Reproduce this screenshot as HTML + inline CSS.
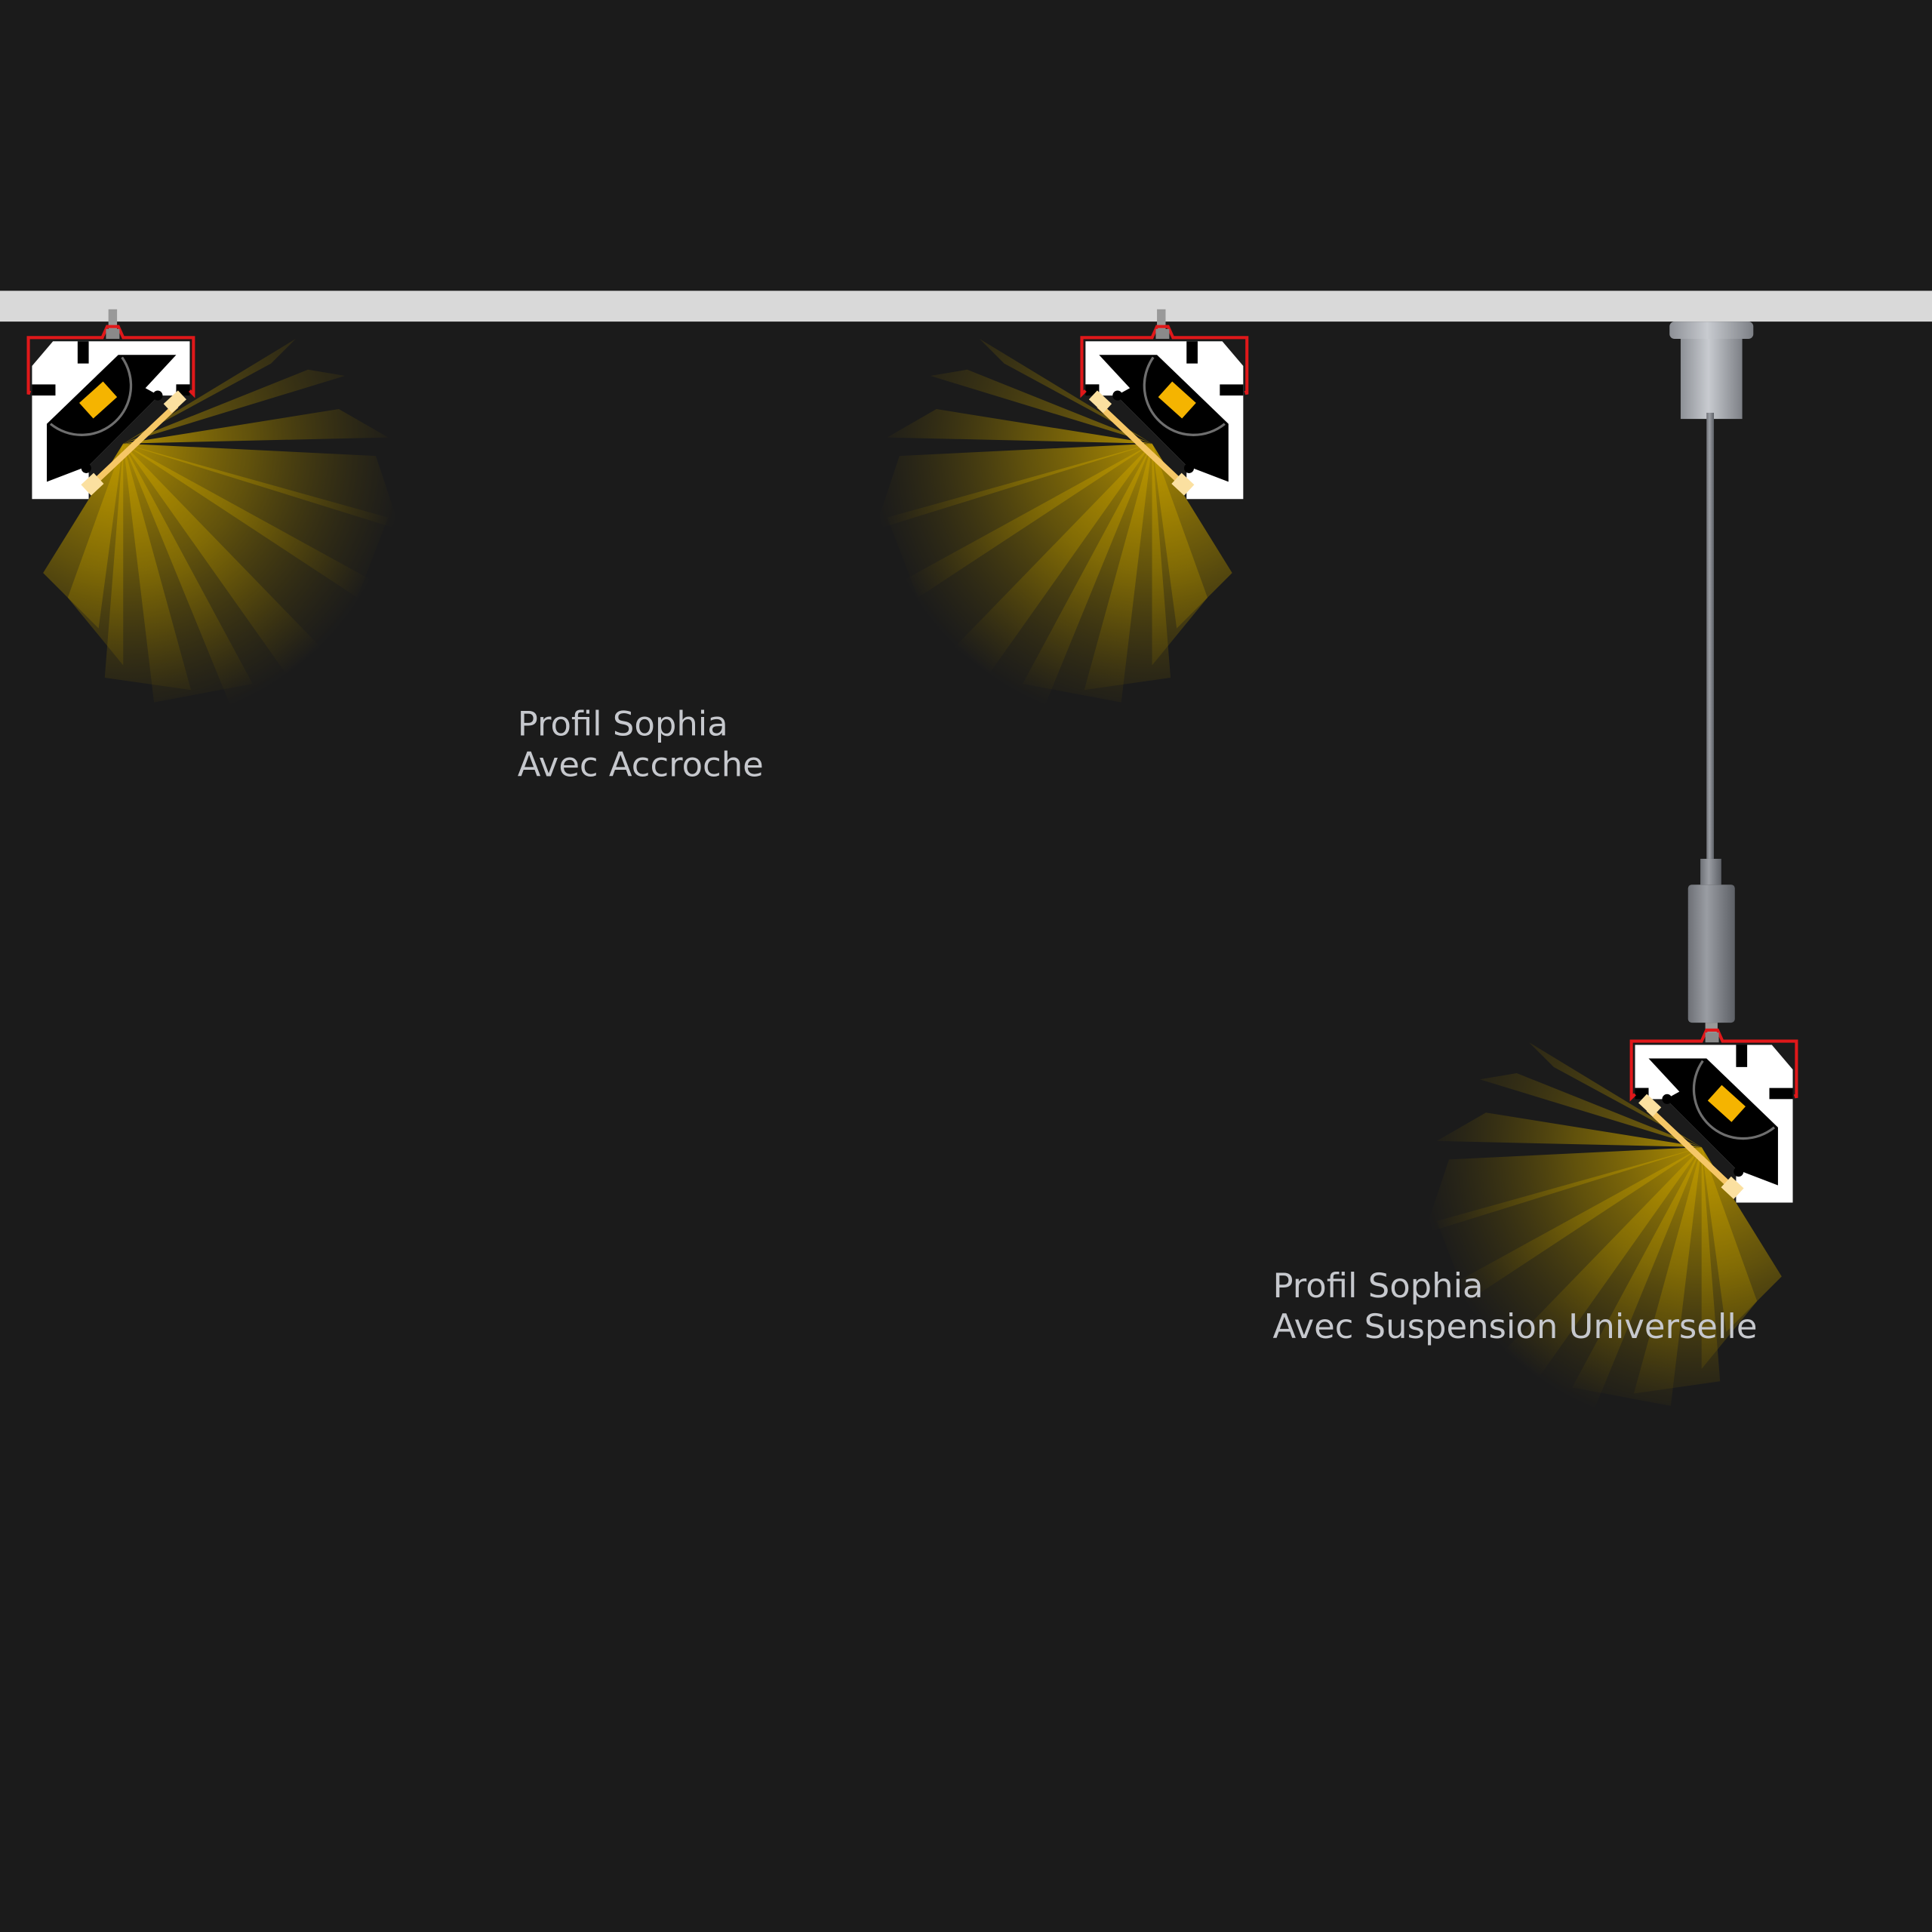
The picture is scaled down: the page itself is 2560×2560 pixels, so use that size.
<!DOCTYPE html>
<html><head><meta charset="utf-8"><style>html,body{margin:0;padding:0;background:#1b1b1b}svg{display:block}</style></head>
<body>
<svg width="2560" height="2560" viewBox="0 0 1568 1568" xmlns="http://www.w3.org/2000/svg">
<defs>
<radialGradient id="ray" gradientUnits="userSpaceOnUse" cx="0" cy="0" r="230">
<stop offset="0" stop-color="#c09a00" stop-opacity="0.9"/>
<stop offset="0.45" stop-color="#9a7e00" stop-opacity="0.55"/>
<stop offset="1" stop-color="#6a5600" stop-opacity="0"/>
</radialGradient>
<linearGradient id="metal" x1="0" x2="1" y1="0" y2="0">
<stop offset="0" stop-color="#8d9096"/><stop offset="0.45" stop-color="#c8cbd0"/><stop offset="1" stop-color="#7d8086"/>
</linearGradient>
<linearGradient id="metal2" x1="0" x2="1" y1="0" y2="0">
<stop offset="0" stop-color="#6d7076"/><stop offset="0.4" stop-color="#9a9da3"/><stop offset="1" stop-color="#5d6066"/>
</linearGradient>
<g id="rays">
<g fill="url(#ray)">
<polygon points="0,0 140,-85 120,-65" opacity="0.6"/>
<polygon points="0,0 150,-60 180,-55" opacity="0.7"/>
<polygon points="0,0 175,-28 215,-5"/>
<polygon points="0,0 205,10 225,70"/>
<polygon points="0,0 215,60 190,125"/>
<polygon points="0,0 200,110 145,205"/>
<polygon points="0,0 160,165 90,220"/>
<polygon points="0,0 105,195 25,210"/>
<polygon points="0,0 55,200 -15,190"/>
<polygon points="0,0 0,180 -45,125"/>
<polygon points="0,0 -20,150 -65,105"/>
</g>
</g>
<g id="prof">
<use href="#rays" transform="translate(74,83)"/>
<!-- white body -->
<polygon fill="#ffffff" points="17,0 128,0 128,35 117,35 117,44 103,44 46,101 46,128 0,128 0,20"/>
<!-- cavity -->
<polygon fill="#000" points="12,67 70,11 117,11 92,38 103,44 46,101 12,114"/>
<rect fill="#000" x="37" y="0" width="9" height="18"/>
<rect fill="#000" x="0" y="35" width="19" height="9"/>
<rect fill="#000" x="117" y="35" width="11" height="9"/>
<circle fill="#000" cx="102" cy="44" r="4"/>
<circle fill="#000" cx="44" cy="103" r="4"/>
<!-- lens arc -->
<path d="M15,67 A40,40 0 0 0 73,13" fill="none" stroke="#6e6e6e" stroke-width="2"/>
<rect x="41" y="39" width="26" height="17" fill="#f5b400" transform="rotate(-42 54 48)"/>
<!-- diffuser -->
<line x1="117" y1="52" x2="48" y2="117" stroke="#f6c766" stroke-width="5"/>
<rect x="108" y="44" width="16" height="10" fill="#fbe0a0" transform="rotate(-43 116 49)"/>
<rect x="42" y="110" width="14" height="12" fill="#fbe0a0" transform="rotate(-43 49 116)"/>
<!-- red clip -->
<path d="M-2,40 L-3,43 L-3,-3 L57,-3 L61,-12 L70,-12 L74,-3 L131,-3 L131,43 L128,40" fill="none" stroke="#e0181a" stroke-width="2.5"/>
<rect x="60" y="-10" width="11" height="8" fill="#8a8a8a"/>
</g>
</defs>
<rect width="1568" height="1568" fill="#1b1b1b"/>
<rect x="0" y="236" width="1568" height="25" fill="#d9d9d9"/>
<g fill="#999">
<rect x="88" y="251" width="7" height="16"/>
<rect x="939" y="251" width="7" height="16"/>
</g>
<use href="#prof" transform="translate(26,277)"/>
<use href="#prof" transform="translate(1009,277) scale(-1,1)"/>
<!-- suspension -->
<rect x="1355" y="261" width="68" height="14" rx="4" fill="url(#metal)"/>
<rect x="1364" y="275" width="50" height="65" fill="url(#metal)"/>
<rect x="1385" y="335" width="6" height="362" fill="url(#metal2)"/>
<rect x="1380" y="697" width="17" height="21" fill="url(#metal2)"/>
<rect x="1370" y="718" width="38" height="112" rx="3" fill="url(#metal2)"/>
<rect x="1384" y="830" width="10" height="10" fill="#999"/>
<use href="#prof" transform="translate(1455,848) scale(-1,1)"/>
<g font-family="DejaVu Sans, Liberation Sans, sans-serif" font-size="27.5" fill="#c6c8cd">
<text x="420" y="597">Profil Sophia</text>
<text x="420" y="630">Avec Accroche</text>
<text x="1033" y="1053">Profil Sophia</text>
<text x="1033" y="1086">Avec Suspension Universelle</text>
</g>
</svg>
</body></html>
